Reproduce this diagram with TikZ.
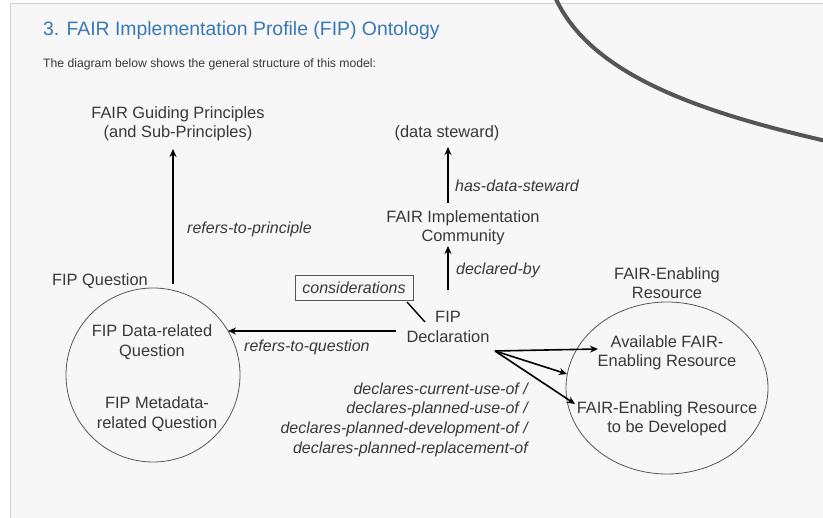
\documentclass[tikz,border=0pt]{standalone}
\usepackage{fontspec}
\setmainfont{Liberation Sans}
\usetikzlibrary{arrows.meta,shapes.geometric}
\definecolor{pagebg}{HTML}{F7F7F8}
\definecolor{titleblue}{HTML}{3A78B5}
\definecolor{ink}{HTML}{383838}
\definecolor{pen}{HTML}{555555}
\begin{document}
\begin{tikzpicture}[x=1pt,y=-1pt,
  lbl/.style={inner sep=0pt, align=center, text=ink, font=\fontsize{16.4}{19.5}\selectfont},
  rel/.style={inner sep=0pt, text=ink, font=\fontsize{16}{19.7}\selectfont\itshape},
  link/.style={draw=black, line width=1.6pt, -{Stealth[length=8pt,width=7pt]}},
  ring/.style={draw=ink!85, line width=0.8pt}]
\useasboundingbox (0,0) rectangle (823,518);
% page and panel
\fill[white] (0,0) rectangle (823,518);
\fill[pagebg] (10,4) rectangle (823,518);
\draw[black!18, line width=1pt] (10,518) -- (10,4) -- (823,4);

% headings
\node[font=\fontsize{19.4}{22}\selectfont, text=titleblue, anchor=west, inner sep=0pt] (title) at (43,30) {3. FAIR Implementation Profile (FIP) Ontology};
\node[font=\fontsize{12.2}{14}\selectfont, text=ink, anchor=west, inner sep=0pt] (intro) at (43,64) {The diagram below shows the general structure of this model:};

% classes
\node[lbl] (principles) at (178,124) {FAIR Guiding Principles\\(and Sub-Principles)};
\node[lbl] (steward) at (447,133) {(data steward)};
\node[lbl] (community) at (463,228) {FAIR Implementation\\Community};
\node[lbl] (fipq) at (100,281) {FIP Question};
\node[ring, circle, minimum size=174pt, inner sep=0pt] (questions) at (153,375) {};
\node[lbl] (dataq) at (152,342) {FIP Data-related\\Question};
\node[lbl] (metaq) at (157,414) {FIP Metadata-\\related Question};
\node[lbl] (decl) at (448,327) {FIP\\Declaration};
\node[ring, rel, minimum width=118pt, minimum height=25pt] (consid) at (354,288) {considerations};
\node[lbl] (fer) at (667,283) {FAIR-Enabling\\Resource};
\node[ring, ellipse, minimum width=202pt, minimum height=172pt, inner sep=0pt] (resources) at (667,388) {};
\node[lbl] (avail) at (667,353) {Available FAIR-\\Enabling Resource};
\node[lbl] (todev) at (667,419) {FAIR-Enabling Resource\\to be Developed};

% connector end points
\coordinate (q-out) at (173,284);
\coordinate (p-in) at (173,149);
\coordinate (c-out) at (448,203);
\coordinate (s-in) at (448,147);
\coordinate (d-up) at (448,290);
\coordinate (c-in) at (448,246);
\coordinate (d-left) at (396,331);
\coordinate (q-in) at (228,331);
\coordinate (d-right) at (495,351);
\coordinate (a-in) at (598,349);
\coordinate (r-in) at (567,374);
\coordinate (t-in) at (575,404);
\coordinate (k-out) at (407,302);
\coordinate (d-note) at (425,322);

% relations
\draw[link] (q-out) -- (p-in);
\draw[link] (c-out) -- (s-in);
\draw[link] (d-up) -- (c-in);
\draw[link] (d-left) -- (q-in);
\draw[link] (d-right) -- (a-in);
\draw[link] (d-right) -- (r-in);
\draw[link] (d-right) -- (t-in);
\draw[black, line width=1.4pt] (k-out) -- (d-note);

% relation labels
\node[rel, anchor=west] (l-principle) at (187,229) {refers-to-principle};
\node[rel, anchor=west] (l-steward) at (455,186) {has-data-steward};
\node[rel, anchor=west] (l-declared) at (456,270) {declared-by};
\node[rel, anchor=west] (l-question) at (244,347) {refers-to-question};
\node[rel, anchor=east, align=right] (l-declares) at (528,419.5) {declares-current-use-of /\\declares-planned-use-of /\\declares-planned-development-of /\\declares-planned-replacement-of};

% pen stroke across the upper right
\draw[pen, line width=4pt, line cap=round] (555,-3) .. controls (590,75) and (700,112) .. (826,141);
\end{tikzpicture}
\end{document}
